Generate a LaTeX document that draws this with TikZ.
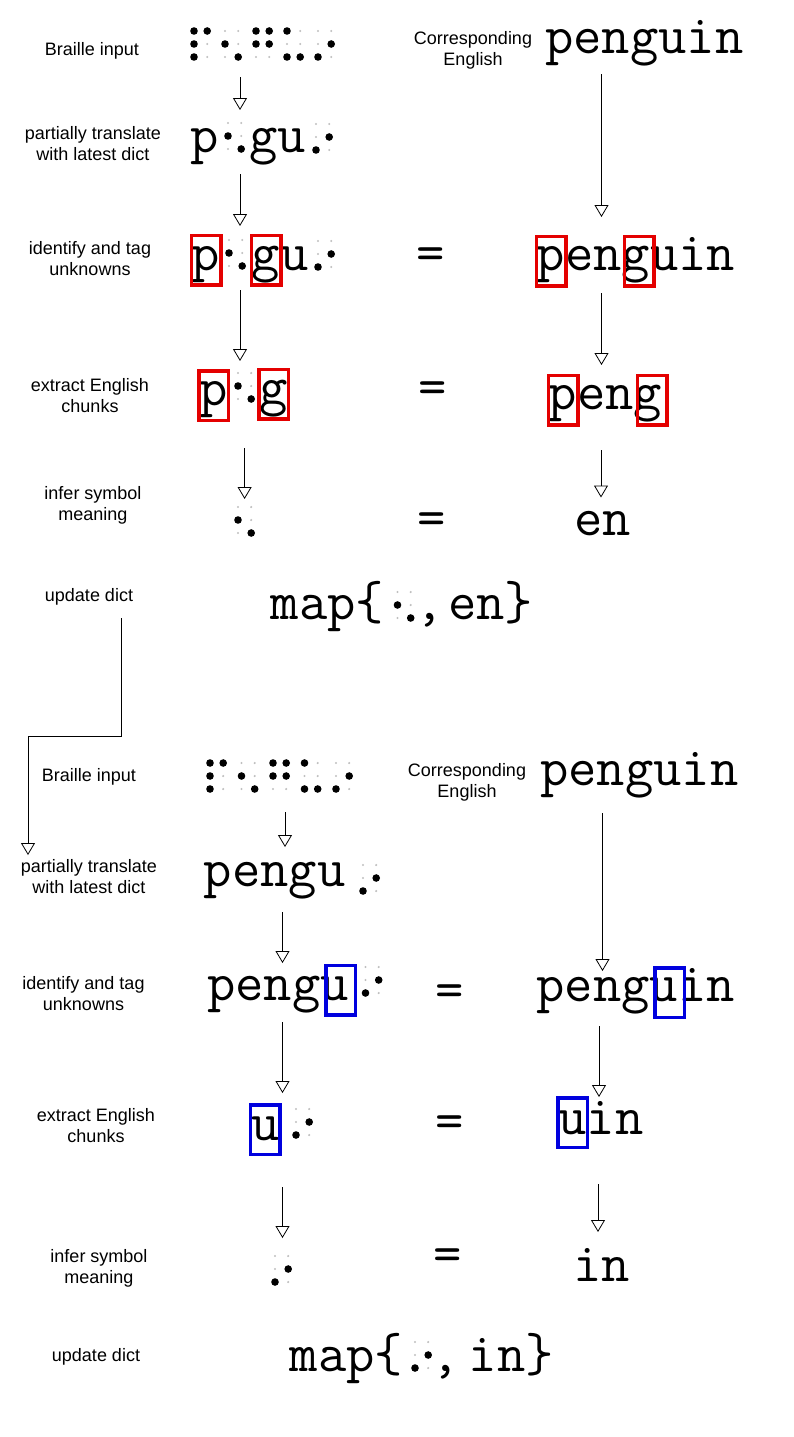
\documentclass[tikz,border=0pt]{standalone}
\usepackage{fontspec}
\setsansfont{Liberation Sans}
\usetikzlibrary{arrows.meta}
\definecolor{tagred}{RGB}{228,0,0}
\definecolor{tagblue}{RGB}{0,0,222}
\newcommand{\brl}[3]{%
  \foreach \dt in {1,...,6}{%
    \pgfmathtruncatemacro\brcol{(\dt-1)/3}%
    \pgfmathtruncatemacro\brrow{mod(\dt-1,3)}%
    \fill[gray!50] (#1+13.2*\brcol,#2+13*\brrow) circle (1.2pt);}%
  \foreach \dt in {#3}{%
    \pgfmathtruncatemacro\brcol{(\dt-1)/3}%
    \pgfmathtruncatemacro\brrow{mod(\dt-1,3)}%
    \fill (#1+13.2*\brcol,#2+13*\brrow) circle (3.8pt);}}

\begin{document}
\begin{tikzpicture}[x=1pt, y=-1pt,
    lbl/.style={font=\sffamily\fontsize{18}{21}\selectfont, align=center},
    mono/.style={font=\ttfamily\fontsize{55}{55}\selectfont, inner sep=0pt, anchor=base west},
    redbox/.style={draw=tagred, line width=3.5pt, minimum width=29.5pt, minimum height=49.5pt, inner sep=0pt},
    bluebox/.style={redbox, draw=tagblue},
    flow/.style={-{Triangle[open, length=12pt, width=14pt]}, line width=0.8pt}]
\useasboundingbox (0,0) rectangle (793,1437);

% first word
\node[lbl] (lInput1) at (92,51) {Braille input};
\brl{194}{31}{1,2,3,4} \brl{225}{31}{2,6} \brl{256}{31}{1,2,4,5} \brl{287}{31}{1,3,6} \brl{318}{31}{3,5}
\node[lbl] (lEng1) at (473,50.5) {Corresponding\\English};
\node[mono] (eng1) at (545,54) {penguin};

\node[lbl] (lTrans1) at (93,143.5) {partially translate\\with latest dict};
\node[mono] (tr1a) at (190,152) {p};
\brl{228}{123}{2,6}
\node[mono] (tr1b) at (249,152) {gu};
\brl{316}{124}{3,5}

\node[lbl] (lTag1) at (90,259) {identify and tag\\unknowns};
\node[mono] (tag1a) at (191.6,270) {p};
\brl{229}{240}{2,6}
\node[mono] (tag1b) at (251.6,270) {gu};
\brl{318}{241}{3,5}
\node[mono, anchor=base] (eq1a) at (431,270) {=};
\node[mono] (tag1c) at (536.6,270) {penguin};
\node[redbox] (box1a) at (206,260) {};
\node[redbox] (box1b) at (266,260) {};
\node[redbox] (box1c) at (551,261) {};
\node[redbox] (box1d) at (639,261) {};

\node[lbl] (lChunk1) at (90,395.5) {extract English\\chunks};
\node[mono] (ch1a) at (199,405) {p};
\brl{238}{373}{2,6}
\node[mono] (ch1b) at (259.3,404) {g};
\node[mono, anchor=base] (eq1b) at (433,404) {=};
\node[mono] (ch1c) at (548.6,409) {peng};
\node[redbox] (box1e) at (213.5,395.5) {};
\node[redbox] (box1f) at (273.7,394) {};
\node[redbox] (box1g) at (563,400) {};
\node[redbox] (box1h) at (652,400) {};

\node[lbl] (lInfer1) at (93,505.5) {infer symbol\\meaning};
\brl{238}{507}{2,6}
\node[mono, anchor=base] (eq1c) at (432,535) {=};
\node[mono] (inf1) at (574,535) {en};

\node[lbl] (lDict1) at (89,597) {update dict};
\node[mono] (map1a) at (270.5,619) {map\{};
\brl{397.5}{592}{2,6}
\node[mono, anchor=base] (map1b) at (430,619) {,};
\node[mono] (map1c) at (447.8,619) {en\}};

\coordinate (f1s) at (240,77);    \coordinate (f1e) at (240,110);
\coordinate (f2s) at (240,174);   \coordinate (f2e) at (240,226);
\coordinate (f3s) at (240,290);   \coordinate (f3e) at (240,361);
\coordinate (f4s) at (244.6,448); \coordinate (f4e) at (244.6,499);
\coordinate (f5s) at (601.5,74);  \coordinate (f5e) at (601.5,217);
\coordinate (f6s) at (601.5,293); \coordinate (f6e) at (601.5,365);
\coordinate (f7s) at (601,450);   \coordinate (f7e) at (601,497.5);
\draw[flow] (f1s) -- (f1e);
\draw[flow] (f2s) -- (f2e);
\draw[flow] (f3s) -- (f3e);
\draw[flow] (f4s) -- (f4e);
\draw[flow] (f5s) -- (f5e);
\draw[flow] (f6s) -- (f6e);
\draw[flow] (f7s) -- (f7e);

% back to the start
\coordinate (loopA) at (121,618);
\coordinate (loopB) at (28,736);
\coordinate (loopC) at (28,855);
\draw[flow] (loopA) |- (loopB) -- (loopC);

% second word
\node[lbl] (lInput2) at (89,777) {Braille input};
\brl{210}{763}{1,2,3,4} \brl{241.5}{763}{2,6} \brl{273}{763}{1,2,4,5} \brl{304.5}{763}{1,3,6} \brl{336}{763}{3,5}
\node[lbl] (lEng2) at (467,782) {Corresponding\\English};
\node[mono] (eng2) at (540,785) {penguin};

\node[lbl] (lTrans2) at (89,877) {partially translate\\with latest dict};
\node[mono] (tr2a) at (203.6,886) {pengu};
\brl{363}{865}{3,5}

\node[lbl] (lTag2) at (83.5,993.5) {identify and tag\\unknowns};
\node[mono] (tag2a) at (207,1000) {pengu};
\brl{365.5}{967}{3,5}
\node[mono, anchor=base] (eq2a) at (449.6,1007) {=};
\node[mono] (tag2b) at (536.2,1001) {penguin};
\node[bluebox] (box2a) at (340.5,990) {};
\node[bluebox] (box2b) at (669.7,992.5) {};

\node[lbl] (lChunk2) at (96,1125.5) {extract English\\chunks};
\node[mono] (ch2a) at (250.9,1140) {u};
\brl{296}{1109}{3,5}
\node[mono, anchor=base] (eq2b) at (449.6,1138) {=};
\node[mono] (ch2b) at (558.3,1134) {uin};
\node[bluebox] (box2c) at (265.3,1129.5) {};
\node[bluebox] (box2d) at (572.7,1122.8) {};

\node[lbl] (lInfer2) at (99,1268) {infer symbol\\meaning};
\brl{275}{1256}{3,5}
\node[mono, anchor=base] (eq2c) at (448,1271) {=};
\node[mono] (inf2) at (573,1281.7) {in};

\node[lbl] (lDict2) at (96,1357) {update dict};
\node[mono] (map2a) at (289.7,1371.7) {map\{};
\brl{415}{1342}{3,5}
\node[mono, anchor=base] (map2b) at (445.6,1371.7) {,};
\node[mono] (map2c) at (468.6,1371.7) {in\}};

\coordinate (f8s) at (285,812);     \coordinate (f8e) at (285,847);
\coordinate (f9s) at (602.5,813);   \coordinate (f9e) at (602.5,971);
\coordinate (f10s) at (282.5,912);  \coordinate (f10e) at (282.5,963);
\coordinate (f11s) at (282.5,1022); \coordinate (f11e) at (282.5,1093);
\coordinate (f12s) at (599,1026);   \coordinate (f12e) at (599,1097);
\coordinate (f13s) at (282.5,1187); \coordinate (f13e) at (282.5,1238);
\coordinate (f14s) at (598,1184);   \coordinate (f14e) at (598,1232);
\draw[flow] (f8s) -- (f8e);
\draw[flow] (f9s) -- (f9e);
\draw[flow] (f10s) -- (f10e);
\draw[flow] (f11s) -- (f11e);
\draw[flow] (f12s) -- (f12e);
\draw[flow] (f13s) -- (f13e);
\draw[flow] (f14s) -- (f14e);
\end{tikzpicture}
\end{document}
